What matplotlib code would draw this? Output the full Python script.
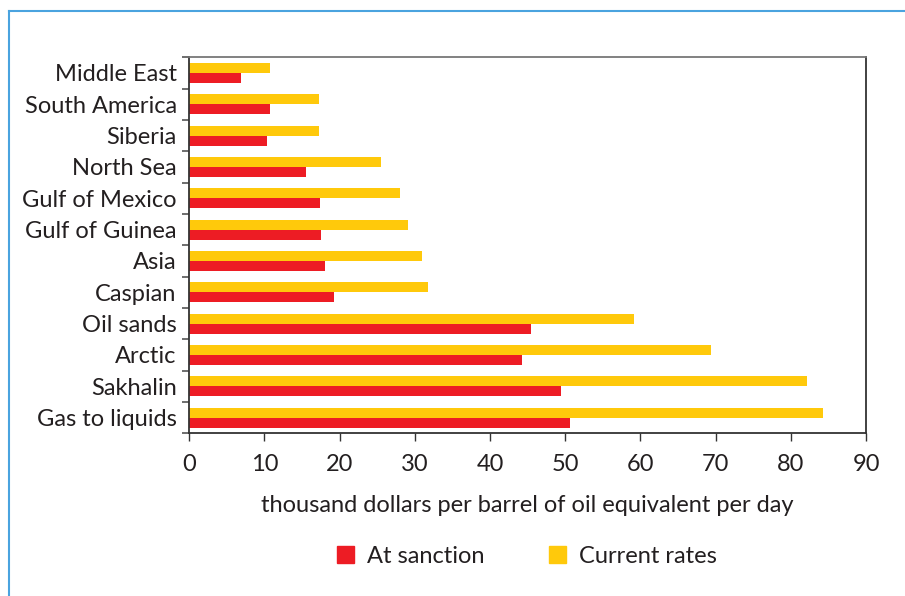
import matplotlib.pyplot as plt
import numpy as np
from matplotlib.lines import Line2D
from matplotlib.patches import Patch

plt.rcParams['font.family'] = ['Lato', 'DejaVu Sans']

# Data (top to bottom as in the chart)
regions = ['Middle East', 'South America', 'Siberia', 'North Sea', 'Gulf of Mexico',
           'Gulf of Guinea', 'Asia', 'Caspian', 'Oil sands', 'Arctic', 'Sakhalin',
           'Gas to liquids']
at_sanction = [6.9, 10.7, 10.3, 15.6, 17.4, 17.5, 18.1, 19.2, 45.5, 44.3, 49.4, 50.6]
current_rates = [10.8, 17.2, 17.2, 25.5, 28.0, 29.1, 30.9, 31.8, 59.2, 69.4, 82.1, 84.3]

red = '#ED1C24'
yellow = '#FFC90B'
txt = '#231F20'
fs = 17

fig = plt.figure(figsize=(9.05, 5.96), dpi=100)
ax = fig.add_axes([0.209, 0.273, 0.748, 0.631])

y = np.arange(len(regions))
h = 0.32
ax.barh(y - h / 2, current_rates, height=h, color=yellow, label='Current rates')
ax.barh(y + h / 2, at_sanction, height=h, color=red, label='At sanction')

ax.set_ylim(len(regions) - 0.5, -0.5)
ax.set_xlim(0, 90)
ax.set_xticks(np.arange(0, 91, 10))
ax.set_yticks(y)
ax.set_yticklabels(regions)
ax.set_yticks(np.arange(-0.5, len(regions), 1), minor=True)
ax.tick_params(axis='y', which='major', length=0, labelsize=fs, colors=txt, pad=9)
ax.tick_params(axis='y', which='minor', length=5, width=1.2, color='#555555')
ax.tick_params(axis='x', length=6, width=1, color='#333333', labelsize=fs,
               labelcolor=txt, pad=9)

for side in ['left', 'bottom', 'right']:
    ax.spines[side].set_color('#333333')
    ax.spines[side].set_linewidth(1.3)
ax.spines['top'].set_color('#777777')
ax.spines['top'].set_linewidth(1.3)

ax.set_xlabel('thousand dollars per barrel of oil equivalent per day',
              fontsize=fs, color=txt, labelpad=14)

handles = [Patch(color=red), Patch(color=yellow)]
fig.legend(handles, ['At sanction', 'Current rates'], loc='center',
           bbox_to_anchor=(0.582, 0.066), ncol=2, frameon=False,
           handlelength=0.72, handleheight=0.72, handletextpad=0.55,
           columnspacing=2.75, prop={'size': fs}, labelcolor=txt)

# blue frame on top and left
fig.add_artist(Line2D([9 / 905, 9 / 905], [0, 1 - 11 / 596], color='#4AA3DF',
                      lw=1.5, transform=fig.transFigure))
fig.add_artist(Line2D([9 / 905, 1], [1 - 11 / 596, 1 - 11 / 596], color='#4AA3DF',
                      lw=1.5, transform=fig.transFigure))

fig.savefig('out.png', dpi=100)
